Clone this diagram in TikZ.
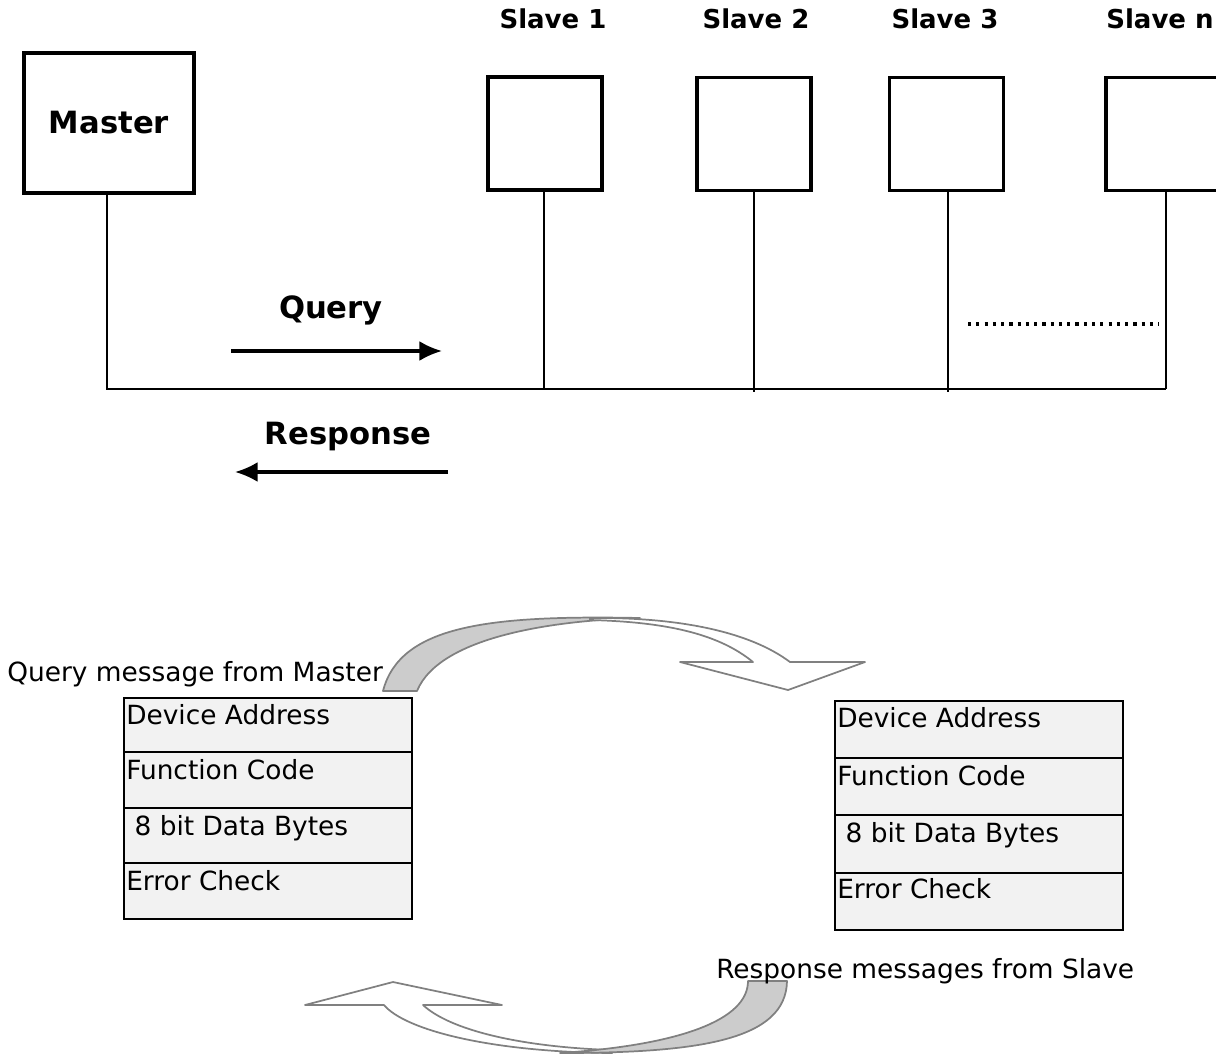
\documentclass[tikz,border=0pt]{standalone}
\usepackage{fontspec}
\setmainfont{DejaVu Sans}
\usetikzlibrary{arrows.meta}
\definecolor{cellfill}{HTML}{F2F2F2}
\definecolor{ribbonline}{HTML}{808080}
\definecolor{ribbonback}{HTML}{CCCCCC}
\tikzset{
  masterbox/.style={draw=black, line width=2.8pt, inner sep=0pt, minimum width=127.5pt, minimum height=105pt,
    font=\fontsize{23}{27}\selectfont\bfseries},
  slavebox/.style={draw=black, line width=2.8pt, inner sep=0pt, minimum width=85.5pt, minimum height=84.75pt},
  slavelbl/.style={inner sep=0pt, anchor=base, font=\fontsize{19.5}{23}\selectfont\bfseries},
  biglbl/.style={inner sep=0pt, anchor=base, font=\fontsize{23}{27}\selectfont\bfseries},
  txt/.style={inner sep=0pt, anchor=base west, font=\fontsize{19.8}{23}\selectfont},
  wire/.style={draw=black, line width=1.4pt},
  dirarrow/.style={draw=black, line width=2.3pt, -{Latex[length=17pt, width=15pt]}},
  dotline/.style={draw=black, line width=2.6pt, dash pattern=on 2.4pt off 3.8pt},
  cell/.style={draw=black, line width=1.5pt, fill=cellfill, inner sep=0pt, minimum width=216pt, anchor=north west},
  ribbonfront/.style={draw=ribbonline, line width=1.3pt, fill=white, line join=round},
  ribbonrear/.style={draw=ribbonline, line width=1.3pt, fill=ribbonback, line join=round}
}
\begin{document}
\begin{tikzpicture}[x=0.75pt,y=-0.75pt]
\useasboundingbox (0,0) rectangle (1216,1054);

% devices
\node[masterbox] (master) at (109,123) {Master};
\node[slavebox] (s1) at (545,133.5) {};
\node[slavebox] (s2) at (754,134) {};
\node[slavebox] (s3) at (946.5,134) {};
\node[slavebox] (sn) at (1163,134) {};

\node[slavelbl] (l1) at (553,28) {Slave 1};
\node[slavelbl] (l2) at (756,28) {Slave 2};
\node[slavelbl] (l3) at (945,28) {Slave 3};
\node[slavelbl] (ln) at (1160,28) {Slave n};

% bus
\coordinate (t0) at (107,389);
\coordinate (t1) at (544,389);
\coordinate (t2) at (754,392);
\coordinate (t3) at (948,392);
\coordinate (tn) at (1166,389);
\draw[wire] (t0 |- master.south) -- (t0) -- (tn);
\draw[wire] (t1 |- s1.south) -- (t1);
\draw[wire] (t2 |- s2.south) -- (t2);
\draw[wire] (t3 |- s3.south) -- (t3);
\draw[wire] (tn |- sn.south) -- (tn);

\coordinate (d0) at (968,324);
\coordinate (d1) at (1159,324);
\draw[dotline] (d0) -- (d1);

% query / response
\node[biglbl] (qlbl) at (331,318) {Query};
\coordinate (qa) at (231,351);
\coordinate (qb) at (442,351);
\draw[dirarrow] (qa) -- (qb);
\node[biglbl] (rlbl) at (348,444) {Response};
\coordinate (ra) at (448,472);
\coordinate (rb) at (235,472);
\draw[dirarrow] (ra) -- (rb);

% top curved arrow
\draw[ribbonrear] (383,691) .. controls (400,625) and (490,615) .. (640,618)
   .. controls (560,620) and (440,635) .. (417,691) -- cycle;
\draw[ribbonfront] (590,618) .. controls (680,617) and (750,632) .. (790,662)
   -- (865,662) -- (788,690) -- (680,662) -- (753,662)
   .. controls (720,635) and (670,622) .. (590,620) -- cycle;

% bottom curved arrow
\draw[ribbonfront] (612,1050) .. controls (520,1047) and (450,1030) .. (423,1005)
   -- (502,1005) -- (393,982) -- (305,1005) -- (384,1005)
   .. controls (405,1030) and (490,1052) .. (612,1053) -- cycle;
\draw[ribbonrear] (787,981) .. controls (786,1040) and (700,1053) .. (560,1053)
   .. controls (680,1045) and (748,1020) .. (748,981) -- cycle;

% captions
\node[txt] (qcap) at (7,681) {Query message from Master};
\node[txt] (rcap) at (716,978) {Response messages from Slave};

% query frame
\node[cell, minimum height=40.5pt] (qa1) at (123,697) {};
\node[cell, minimum height=42pt] (qa2) at (123,751) {};
\node[cell, minimum height=41.25pt] (qa3) at (123,807) {};
\node[cell, minimum height=42pt] (qa4) at (123,862) {};
\node[txt] (qt1) at (126,724) {Device Address};
\node[txt] (qt2) at (126,779) {Function Code};
\node[txt] (qt3) at (126,835) {\ 8 bit Data Bytes};
\node[txt] (qt4) at (126,890) {Error Check};

% response frame
\node[cell, minimum height=42.75pt] (ra1) at (834,700) {};
\node[cell, minimum height=42.75pt] (ra2) at (834,757) {};
\node[cell, minimum height=43.5pt] (ra3) at (834,814) {};
\node[cell, minimum height=42.75pt] (ra4) at (834,872) {};
\node[txt] (rt1) at (837,727) {Device Address};
\node[txt] (rt2) at (837,785) {Function Code};
\node[txt] (rt3) at (837,842) {\ 8 bit Data Bytes};
\node[txt] (rt4) at (837,898) {Error Check};
\end{tikzpicture}
\end{document}
